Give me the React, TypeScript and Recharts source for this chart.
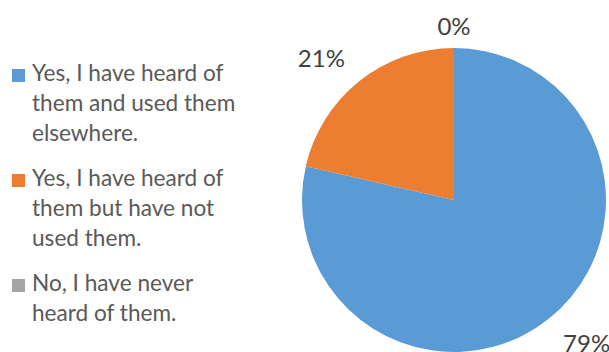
import { PieChart, Pie, Cell, Legend } from "recharts"

document.body.style.margin = "0"

const answers = [
  "Yes, I have heard of them and used them elsewhere.",
  "Yes, I have heard of them but have not used them.",
  "No, I have never heard of them.",
]
const responses = [33, 9, 0]
const colors = ["#5B9BD5", "#ED7D31", "#A5A5A5"]

const data = answers.map((name, i) => ({ name, value: responses[i] }))
const total = responses.reduce((a, b) => a + b, 0)

const RADIAN = Math.PI / 180

function renderLabel(props: any) {
  const { cx, cy, midAngle, outerRadius, value } = props
  const cos = Math.cos(-midAngle * RADIAN)
  const sin = Math.sin(-midAngle * RADIAN)
  const r = outerRadius + 23
  const x = cx + r * cos
  const y = cy + r * sin + sin * Math.abs(cos) * 12
  const anchor = Math.abs(cos) < 0.1 ? "middle" : cos > 0 ? "start" : "end"
  return (
    <text
      x={x}
      y={y}
      textAnchor={anchor}
      dominantBaseline="central"
      fill="#404040"
      fontSize={24}
      fontFamily="Lato"
    >
      {`${Math.round((value / total) * 100)}%`}
    </text>
  )
}

function LegendContent() {
  return (
    <div style={{ paddingTop: 58, fontFamily: "Lato", fontSize: 22.6, lineHeight: "30px", color: "#595959" }}>
      {data.map((d, i) => (
        <div key={d.name} style={{ display: "flex", alignItems: "flex-start", marginBottom: 15 }}>
          <div style={{ width: 13, height: 13, background: colors[i], marginLeft: 12, marginTop: 11, marginRight: 7, flexShrink: 0 }} />
          <div style={{ width: 214 }}>{d.name}</div>
        </div>
      ))}
    </div>
  )
}

export default function App() {
  return (
    <PieChart width={609} height={352} margin={{ top: 0, right: 0, bottom: 0, left: 0 }} style={{ background: "#fff" }}>
      <Pie
        data={data}
        dataKey="value"
        nameKey="name"
        cx={454}
        cy={200}
        outerRadius={152}
        startAngle={90}
        endAngle={-270}
        stroke="none"
        label={renderLabel}
        labelLine={false}
        isAnimationActive={false}
      >
        {data.map((d, i) => (
          <Cell key={d.name} fill={colors[i]} />
        ))}
      </Pie>
      <Legend
        content={<LegendContent />}
        wrapperStyle={{ left: 0, top: 0, width: 260, height: 352 }}
      />
    </PieChart>
  )
}
